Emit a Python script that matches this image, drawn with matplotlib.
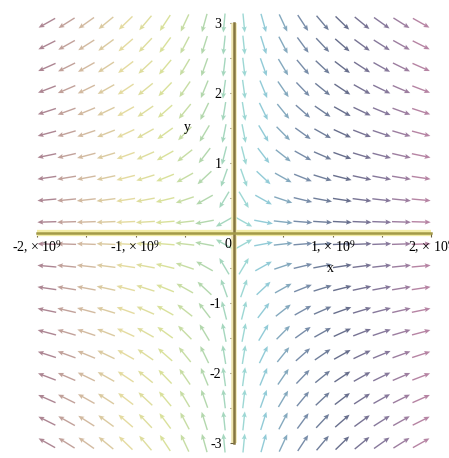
import numpy as np
import matplotlib
matplotlib.use("Agg")
import matplotlib.pyplot as plt
from matplotlib.colors import LinearSegmentedColormap

plt.rcParams['font.family'] = ['Liberation Serif', 'DejaVu Serif']
plt.rcParams['mathtext.fontset'] = 'stix'

# direction field grid (20 x 20), arrows at the cell centres along x
x_range = (-2e9, 2e9)
y_range = (-3.0, 3.0)
x_cells = (-1.9e9, 1.9e9)
n_cols, n_rows = 20, 20

# system: dx/dt = x, dy/dt = -y (x measured in 1e9 units, y slowed by half)
x_scale = 1e9
y_rate = 0.5

x_ticks = [-2e9, -1e9, 1e9, 2e9]
x_ticklabels = ["-2, × 10$^9$", "-1, × 10$^9$", "1, × 10$^9$", "2, × 10$^9$"]
x_minor = [-1.5e9, -0.5e9, 0.5e9, 1.5e9]
y_ticks = [-3, -2, -1, 1, 2, 3]
y_ticklabels = ["-3", "-2", "-1", "1", "2", "3"]
y_minor = [-2.5, -1.5, -0.5, 0.5, 1.5, 2.5]

# arrow colours running across x
arrow_colors = ['#94627c', '#c8a890', '#e0d590', '#d2dc8a', '#9ccfa4',
                '#86d2dc', '#627c9c', '#4e5679', '#76628c', '#b87296']
cmap = LinearSegmentedColormap.from_list('field', arrow_colors)

fig = plt.figure(figsize=(4.49, 4.58), dpi=100)
ax = fig.add_axes([0.0605, 0.0098, 0.9214, 0.9629])
ax.set_xlim(-2.1e9, 2.1e9)
ax.set_ylim(-3.15, 3.15)

X, Y = np.meshgrid(np.linspace(*x_cells, n_cols), np.linspace(*y_range, n_rows))
U = X / x_scale
V = -y_rate * Y

# normalise arrows in screen space so they all have the same drawn length
p0 = ax.transData.transform((0, 0))
px = ax.transData.transform((1e9, 0))[0] - p0[0]
py = ax.transData.transform((0, 1))[1] - p0[1]
Us = U * px
Vs = V * py
mag = np.hypot(Us, Vs)
Us, Vs = Us / mag, Vs / mag

ax.quiver(X, Y, Us, Vs, X, cmap=cmap, clim=x_range,
          angles='uv', pivot='middle', scale_units='inches', scale=1 / 0.19,
          units='dots', width=1.4, headwidth=3.6, headlength=4.2, headaxislength=3.6,
          alpha=0.85, zorder=1)

# axes crossing at the origin
ax.plot(x_range, [0, 0], color='#f2eca4', lw=4.5, solid_capstyle='butt', zorder=2)
ax.plot([0, 0], y_range, color='#efe6b0', lw=4.0, solid_capstyle='butt', zorder=2)
for side in ['top', 'right']:
    ax.spines[side].set_visible(False)
ax.spines['bottom'].set_position(('data', 0))
ax.spines['left'].set_position(('data', 0))
ax.spines['bottom'].set_bounds(*x_range)
ax.spines['left'].set_bounds(*y_range)
ax.spines['bottom'].set_color('#a39a48')
ax.spines['left'].set_color('#857640')
ax.spines['bottom'].set_linewidth(1.8)
ax.spines['left'].set_linewidth(1.8)
ax.spines['bottom'].set_zorder(3)
ax.spines['left'].set_zorder(3)

ax.set_xticks(x_ticks)
ax.set_xticklabels(x_ticklabels)
ax.set_xticks(x_minor, minor=True)
ax.set_yticks(y_ticks)
ax.set_yticklabels(y_ticklabels)
ax.set_yticks(y_minor, minor=True)
ax.tick_params(axis='x', which='both', direction='out', length=3, width=0.8,
               color='#6b6040', pad=1, labelsize=10)
ax.tick_params(axis='y', which='both', direction='out', length=3, width=0.8,
               color='#6b6040', pad=6, labelsize=10)

ax.text(-0.06e9, -0.17, "0", fontsize=10, ha='center', va='center')
ax.text(0.975e9, -0.5, "x", fontsize=10, ha='center', va='center')
ax.text(-0.47e9, 1.51, "y", fontsize=10, ha='center', va='center')

fig.savefig("out.png", dpi=100)
